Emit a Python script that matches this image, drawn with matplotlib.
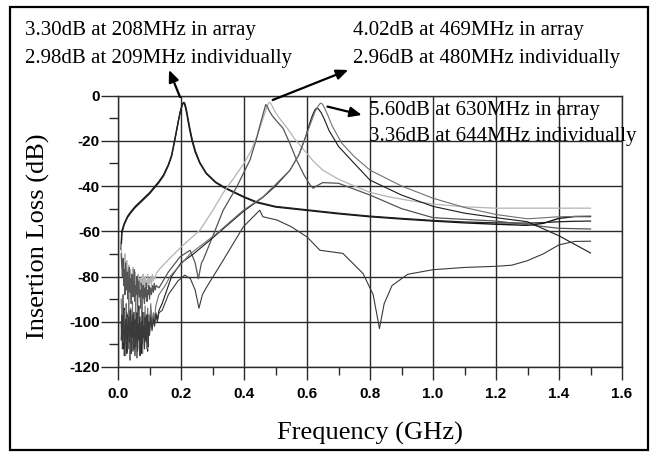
import matplotlib
matplotlib.use("Agg")
import matplotlib.pyplot as plt
from matplotlib.ticker import MultipleLocator, FuncFormatter
from matplotlib.patches import Rectangle

# ---------------- data (GHz, dB) ----------------
# 208 MHz resonator, in array
f_208a = [0.010, 0.012, 0.02, 0.03, 0.04, 0.055, 0.07, 0.085, 0.10, 0.115, 0.13, 0.145, 0.16, 0.17,
          0.178, 0.185, 0.192, 0.198, 0.202, 0.205, 0.208, 0.211, 0.214, 0.218, 0.222, 0.228, 0.235,
          0.245, 0.26, 0.28, 0.31, 0.34, 0.40, 0.44, 0.50, 0.60, 0.70, 0.80, 0.90, 1.00,
          1.10, 1.20, 1.30, 1.35, 1.40, 1.45, 1.50]
il_208a = [-68, -60, -56.5, -53.5, -51.5, -49, -47, -45, -43, -40.5, -38, -35, -30.5, -26.5,
           -21, -16, -11, -7, -5, -3.8, -3.3, -3.8, -5.2, -7.8, -11, -15.5, -20,
           -25, -30, -34.5, -38.5, -41, -45, -47.3, -49.3, -50.8, -52.3, -53.6, -54.6, -55.5,
           -56.3, -56.9, -57.4, -56.5, -54.3, -53.5, -53.5]
# 208 MHz resonator, individually
f_208i = [0.010, 0.012, 0.02, 0.03, 0.04, 0.055, 0.07, 0.085, 0.10, 0.115, 0.13, 0.145, 0.16, 0.17,
          0.178, 0.185, 0.192, 0.198, 0.203, 0.206, 0.209, 0.212, 0.215, 0.219, 0.223, 0.229, 0.236,
          0.246, 0.26, 0.28, 0.31, 0.34, 0.40, 0.44, 0.50, 0.60, 0.70, 0.80, 0.90, 1.00,
          1.10, 1.20, 1.30, 1.35, 1.40, 1.45, 1.50]
il_208i = [-68, -61, -57, -54, -52, -49.5, -47.5, -45.5, -43.5, -41, -38.5, -35.5, -31, -27,
           -21.5, -16.5, -11, -7, -4.6, -3.4, -2.98, -3.4, -4.8, -7.4, -10.6, -15, -19.6,
           -24.6, -29.6, -34.2, -38.2, -40.7, -44.7, -47, -49, -50.5, -52, -53.3, -54.3, -55.2,
           -55.9, -56.3, -56.4, -56.2, -55.8, -55.6, -55.5]

# 480 MHz resonator, individually (light grey)
f_480i = [0.010, 0.012, 0.014, 0.016, 0.018, 0.020, 0.022, 0.024, 0.026, 0.028, 0.030, 0.032, 0.034,
          0.036, 0.038, 0.040, 0.042, 0.044, 0.046, 0.048, 0.050, 0.052, 0.054, 0.056, 0.058, 0.060,
          0.062, 0.064, 0.066, 0.068, 0.070, 0.072, 0.074, 0.076, 0.078, 0.080, 0.082, 0.084, 0.086,
          0.088, 0.090, 0.092, 0.094, 0.096, 0.098, 0.100, 0.103, 0.106, 0.109, 0.112, 0.115, 0.118,
          0.121, 0.13, 0.15, 0.20, 0.26, 0.30, 0.334, 0.37, 0.40, 0.42, 0.44, 0.455, 0.465, 0.472,
          0.477, 0.48, 0.484, 0.49, 0.50, 0.515, 0.535, 0.56, 0.59, 0.62, 0.65, 0.70, 0.75, 0.80,
          0.86, 0.92, 1.00, 1.10, 1.20, 1.30, 1.40, 1.50]
il_480i = [-66, -71, -76, -72, -79, -74, -70, -81, -76, -73, -83, -78, -75, -84, -80, -77, -86, -79,
           -82, -76, -85, -81, -78, -87, -82, -80, -85, -79, -83, -88, -81, -84, -80, -86, -82, -79,
           -85, -83, -80, -87, -82, -84, -79, -85, -81, -83, -80, -84, -79, -82, -80, -81,
           -79, -77, -74, -67, -59.5, -51, -43, -36, -30, -25, -18.5, -12.5, -8.2, -5.3,
           -3.6, -2.96, -3.3, -4.8, -7.5, -10.5, -14, -19, -24, -29, -33, -37, -40, -42.8,
           -44.8, -46.3, -48, -49.2, -49.8, -49.8, -49.8, -49.8]

# 469 MHz resonator, in array (dark grey)
f_469a = [0.010, 0.012, 0.014, 0.016, 0.018, 0.020, 0.022, 0.024, 0.026, 0.028, 0.030, 0.032, 0.034,
          0.036, 0.038, 0.040, 0.042, 0.044, 0.046, 0.048, 0.050, 0.052, 0.054, 0.056, 0.058, 0.060,
          0.062, 0.064, 0.066, 0.068, 0.070, 0.072, 0.074, 0.076, 0.078, 0.080, 0.082, 0.084, 0.086,
          0.088, 0.090, 0.092, 0.094, 0.096, 0.098, 0.100, 0.103, 0.106, 0.109, 0.112, 0.115, 0.118,
          0.121, 0.13, 0.16, 0.197, 0.229, 0.245, 0.255, 0.265, 0.27, 0.30, 0.334, 0.377, 0.419,
          0.44, 0.452, 0.46, 0.465, 0.469, 0.473, 0.479, 0.49, 0.505, 0.524, 0.545, 0.567, 0.59,
          0.61, 0.62, 0.63, 0.65, 0.70, 0.80, 0.90, 1.00, 1.20, 1.40, 1.50]
il_469a = [-70, -75, -80, -72, -84, -77, -88, -74, -81, -86, -78, -90, -83, -76, -87, -81, -92, -79,
           -85, -89, -82, -77, -91, -84, -88, -80, -93, -85, -82, -89, -86, -94, -83, -87, -90, -84,
           -88, -92, -85, -89, -83, -91, -86, -88, -84, -90, -85, -88, -84, -87, -83, -86,
           -84, -85, -78, -71.3, -68.4, -74, -81, -74, -72.8, -62.5, -50.7, -40.4, -28.5,
           -19, -12.5, -8.5, -6, -4.02, -4.6, -6.5, -9, -11.5, -14.5, -21, -28.5, -35,
           -39.6, -41, -40, -38.5, -38.8, -44, -50, -54, -55.5, -58.7, -59]

# 630 MHz resonator, in array (black)
f_630a = [0.010, 0.012, 0.014, 0.016, 0.018, 0.020, 0.022, 0.024, 0.026, 0.028, 0.030, 0.032, 0.034,
          0.036, 0.038, 0.040, 0.042, 0.044, 0.046, 0.048, 0.050, 0.052, 0.054, 0.056, 0.058, 0.060,
          0.062, 0.064, 0.066, 0.068, 0.070, 0.072, 0.074, 0.076, 0.078, 0.080, 0.082, 0.084, 0.086,
          0.088, 0.090, 0.092, 0.094, 0.096, 0.098, 0.100, 0.104, 0.108, 0.112, 0.116, 0.120, 0.125,
          0.13, 0.14, 0.17, 0.20, 0.24, 0.30, 0.35, 0.40, 0.46, 0.50, 0.546, 0.575, 0.595, 0.608,
          0.618, 0.625, 0.63, 0.636, 0.645, 0.655, 0.67, 0.70, 0.75, 0.80, 0.90, 1.00, 1.10, 1.20,
          1.30, 1.40, 1.50]
il_630a = [-100, -108, -96, -112, -103, -94, -110, -99, -106, -114, -97, -104, -109, -95, -111,
           -102, -98, -113, -105, -96, -108, -101, -115, -97, -104, -110, -99, -106, -93, -112, -103,
           -98, -107, -114, -100, -105, -96, -111, -102, -108, -97, -104, -113, -99, -106, -101,
           -95, -103, -98, -100, -96, -99, -95, -92, -80, -74, -70, -63, -57, -51, -45, -40, -33,
           -26, -18.5, -12.5, -8.5, -6.4, -5.6, -5.9, -7.6, -10.5, -15.5, -22.5, -30, -37.4, -44,
           -49, -52, -54, -55.8, -62, -69.6]

# 644 MHz resonator, individually (grey)
f_644i = [0.010, 0.012, 0.014, 0.016, 0.018, 0.020, 0.022, 0.024, 0.026, 0.028, 0.030, 0.032, 0.034,
          0.036, 0.038, 0.040, 0.042, 0.044, 0.046, 0.048, 0.050, 0.052, 0.054, 0.056, 0.058, 0.060,
          0.062, 0.064, 0.066, 0.068, 0.070, 0.072, 0.074, 0.076, 0.078, 0.080, 0.082, 0.084, 0.086,
          0.088, 0.090, 0.092, 0.094, 0.096, 0.098, 0.100, 0.104, 0.108, 0.112, 0.116, 0.120, 0.13,
          0.15, 0.165, 0.229, 0.313, 0.398, 0.46, 0.546, 0.575, 0.598, 0.615, 0.626, 0.635, 0.640,
          0.644, 0.649, 0.656, 0.667, 0.68, 0.71, 0.75, 0.80, 0.90, 1.00, 1.10, 1.20, 1.30, 1.40,
          1.50]
il_644i = [-90, -97, -104, -88, -109, -95, -101, -115, -92, -106, -98, -112, -87, -103, -117, -94,
           -99, -108, -91, -113, -102, -96, -110, -89, -105, -116, -93, -100, -107, -95, -111, -98,
           -104, -90, -114, -101, -96, -109, -93, -106, -99, -112, -94, -103, -97, -105, -92, -101,
           -96, -99, -93, -88, -84, -80, -70, -61, -50.7, -44.8, -33, -26, -17.5, -11, -7, -4.8,
           -3.8, -3.36, -3.8, -5.6, -9, -13.5, -21, -27, -33, -40, -45.4, -49.5, -52.6, -54.5,
           -53.6, -53.3]

# curve with dips at 257 MHz and 830 MHz (thin black / grey)
f_iso = [0.010, 0.012, 0.014, 0.016, 0.018, 0.020, 0.022, 0.024, 0.026, 0.028, 0.030, 0.032, 0.034,
         0.036, 0.038, 0.040, 0.042, 0.044, 0.046, 0.048, 0.050, 0.052, 0.054, 0.056, 0.058, 0.060,
         0.062, 0.064, 0.066, 0.068, 0.070, 0.072, 0.074, 0.076, 0.078, 0.080, 0.082, 0.084, 0.086,
         0.088, 0.090, 0.092, 0.094, 0.096, 0.098, 0.100, 0.104, 0.108, 0.112, 0.116, 0.120, 0.125,
         0.13, 0.14, 0.16, 0.19, 0.212, 0.23, 0.245, 0.257, 0.268, 0.28, 0.334, 0.398, 0.45, 0.46,
         0.504, 0.55, 0.60, 0.641, 0.714, 0.778, 0.81, 0.83, 0.845, 0.87, 0.92, 1.00, 1.10, 1.20,
         1.25, 1.30, 1.35, 1.40, 1.45, 1.50]
il_iso = [-108, -97, -112, -101, -94, -115, -105, -99, -110, -96, -113, -103, -98, -109, -104, -95,
          -114, -100, -107, -97, -112, -103, -99, -111, -106, -96, -113, -101, -108, -98, -115, -104,
          -100, -110, -96, -107, -102, -112, -98, -105, -109, -97, -103, -111, -100, -106, -98,
          -104, -99, -102, -97, -100, -96, -95, -88, -82, -79.4, -81, -86, -94, -88, -85, -72.8,
          -58, -50.7, -53.6, -55, -58, -62.5, -68.4, -69.8, -78.7, -88, -103, -92, -84, -79, -77,
          -76, -75.5, -75, -73, -70, -66, -64.5, -64.4]

curves = [
    (f_208a, il_208a, "#111111", 1.0),
    (f_208i, il_208i, "#222222", 0.9),
    (f_480i, il_480i, "#b4b4b4", 0.9),
    (f_469a, il_469a, "#555555", 0.9),
    (f_630a, il_630a, "#1a1a1a", 0.8),
    (f_644i, il_644i, "#707070", 0.8),
    (f_iso, il_iso, "#3a3a3a", 0.8),
]

x_ticks = [0.0, 0.2, 0.4, 0.6, 0.8, 1.0, 1.2, 1.4, 1.6]
y_ticks = [0, -20, -40, -60, -80, -100, -120]

notes = [
    ("3.30dB at 208MHz in array", "2.98dB at 209MHz individually"),
    ("4.02dB at 469MHz in array", "2.96dB at 480MHz individually"),
    ("5.60dB at 630MHz in array", "3.36dB at 644MHz individually"),
]

# ---------------- figure ----------------
W, H = 655, 457
fig = plt.figure(figsize=(W / 100, H / 100), dpi=100)
ax = fig.add_axes([118 / W, 1 - 367 / H, (622 - 118) / W, (367 - 95.5) / H])

for fx, fy, col, lw in curves:
    ax.plot(fx, fy, color=col, lw=lw, solid_joinstyle="round")

ax.set_xlim(0, 1.6)
ax.set_ylim(-120, 0)
ax.set_xticks(x_ticks)
ax.set_yticks(y_ticks)
ax.xaxis.set_minor_locator(MultipleLocator(0.1))
ax.yaxis.set_minor_locator(MultipleLocator(10))
ax.xaxis.set_major_formatter(FuncFormatter(lambda v, p: f"{v:.1f}"))
ax.yaxis.set_major_formatter(FuncFormatter(lambda v, p: f"{int(round(v))}"))
gcol = "#2a2a2a"
ax.grid(True, which="major", color=gcol, lw=1.0)
for s in ax.spines.values():
    s.set_color(gcol)
    s.set_linewidth(1.0)
ax.tick_params(axis="x", which="major", direction="out", length=9.5, width=1.0, color=gcol, pad=5)
ax.tick_params(axis="x", which="minor", direction="out", length=6, width=1.0, color=gcol)
ax.tick_params(axis="y", which="major", direction="out", length=12.5, width=1.0, color=gcol, pad=0.5)
ax.tick_params(axis="y", which="minor", direction="out", length=6.5, width=1.0, color=gcol)
for lab in ax.get_xticklabels() + ax.get_yticklabels():
    lab.set_fontfamily("Liberation Sans")
    lab.set_fontweight("bold")
    lab.set_fontsize(11)

ax.set_xlabel("Frequency (GHz)", family="Liberation Serif", fontsize=19, va="center")
ax.set_ylabel("Insertion Loss (dB)", family="Liberation Serif", fontsize=19, va="center")
ax.xaxis.set_label_coords((370 - 118) / 504, (367 - 433) / 271.5)
ax.yaxis.set_label_coords((38 - 118) / 504, (367 - 236) / 271.5)

# annotation texts (figure pixel positions)
txt_kw = dict(family="Liberation Serif", fontsize=15, ha="left", va="center")
pos = [(25, 30, 58), (353, 30, 58), (369, 110, 137)]
for (l1, l2), (px, py1, py2) in zip(notes, pos):
    fig.text(px / W, 1 - py1 / H, l1, **txt_kw)
    fig.text(px / W, 1 - py2 / H, l2, **txt_kw)

# arrows (data coordinates)
arrows = [((0.197, -0.7), (0.162, 11.3)),
          ((0.491, -2.0), (0.731, 11.3)),
          ((0.665, -4.9), (0.774, -8.6))]
for tail, head in arrows:
    ax.annotate("", xy=head, xytext=tail, annotation_clip=False,
                arrowprops=dict(arrowstyle="-|>,head_length=0.7,head_width=0.3",
                                color="black", lw=1.6, shrinkA=0, shrinkB=0))

# figure border
fig.patches.append(Rectangle((10 / W, 1 - 450 / H), (648 - 10) / W, (450 - 7) / H,
                             transform=fig.transFigure, fill=False, lw=1.6, edgecolor="black"))

fig.savefig("out.png", dpi=100)
